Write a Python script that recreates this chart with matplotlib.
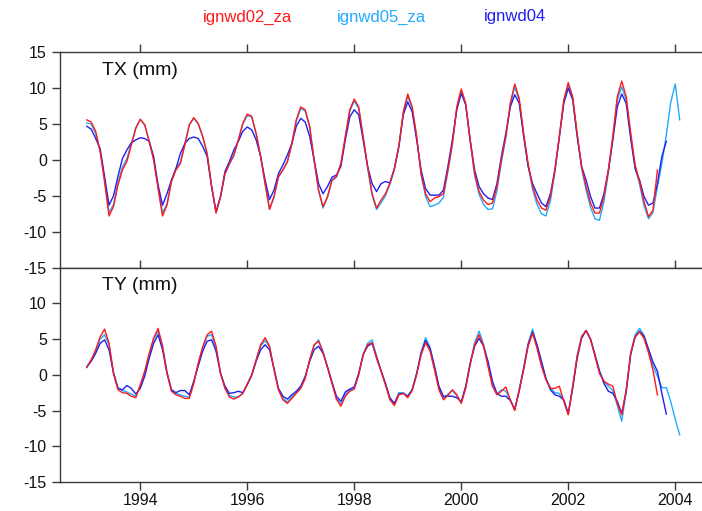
import numpy as np
import matplotlib
matplotlib.use("Agg")
import matplotlib.pyplot as plt

plt.rcParams["font.family"] = ["Liberation Sans", "DejaVu Sans"]
plt.rcParams["axes.unicode_minus"] = False

# Monthly series starting January 1993
start_year = 1993.0

series_names = ["ignwd02_za", "ignwd05_za", "ignwd04"]
series_colors = ["#ff1a1a", "#22aaff", "#2020ee"]

# TX (mm)
tx_02 = [
    5.6, 5.3, 4.0, 1.2, -3.0, -7.8, -6.5, -3.5, -1.4, -0.2, 2.1, 4.4,
    5.7, 4.9, 2.6, 0.0, -4.0, -7.8, -6.3, -3.0, -1.4, -0.5, 2.1, 4.9,
    5.9, 5.1, 3.3, 0.9, -3.7, -7.4, -5.1, -1.9, -0.5, 0.7, 2.8, 5.1,
    6.4, 6.1, 3.7, 0.5, -3.3, -6.9, -5.1, -2.3, -1.4, -0.2, 2.3, 5.6,
    7.4, 7.0, 4.7, 0.0, -4.2, -6.5, -5.1, -2.8, -2.3, -0.5, 3.3, 7.0,
    8.5, 7.4, 3.3, -0.9, -4.7, -6.7, -5.6, -4.7, -3.2, -1.2, 1.9, 6.7,
    9.2, 7.4, 3.3, -1.9, -4.7, -5.8, -5.3, -5.1, -4.7, -1.4, 2.3, 7.4,
    9.9, 7.9, 2.8, -1.9, -4.4, -5.6, -6.2, -6.0, -3.7, 0.0, 3.3, 7.9,
    10.6, 8.6, 3.7, -0.5, -3.7, -5.6, -6.7, -7.0, -5.1, -1.4, 3.3, 8.4,
    10.8, 8.8, 3.7, -0.9, -3.7, -6.0, -7.4, -7.4, -5.1, -1.4, 3.3, 8.8,
    11.0, 8.8, 3.8, -0.7, -3.0, -5.8, -7.9, -7.0, -1.4,
]
tx_05 = [
    5.2, 5.0, 3.7, 1.3, -2.9, -7.3, -6.2, -3.2, -1.0, 0.2, 2.3, 4.5,
    5.6, 4.9, 2.7, 0.1, -3.8, -7.4, -6.1, -2.9, -1.2, -0.3, 2.2, 4.9,
    5.8, 5.0, 3.3, 0.9, -3.6, -7.3, -5.2, -2.0, -0.6, 0.6, 2.8, 5.0,
    6.2, 6.0, 3.6, 0.4, -3.3, -6.8, -5.2, -2.4, -1.4, -0.3, 2.2, 5.4,
    7.2, 6.8, 4.6, -0.1, -4.3, -6.7, -5.2, -2.9, -2.4, -0.6, 3.2, 6.8,
    8.2, 7.2, 3.1, -1.1, -4.9, -6.9, -6.0, -5.0, -3.4, -1.3, 1.8, 6.5,
    8.9, 7.2, 3.1, -2.1, -5.1, -6.5, -6.3, -6.0, -5.2, -1.6, 2.1, 7.2,
    9.6, 7.7, 2.6, -2.1, -4.8, -6.2, -6.9, -6.8, -4.3, -0.3, 3.1, 7.7,
    10.2, 8.3, 3.5, -0.8, -4.1, -6.2, -7.5, -7.8, -5.7, -1.7, 3.1, 8.1,
    10.4, 8.5, 3.4, -1.2, -4.2, -6.6, -8.2, -8.4, -5.8, -1.8, 3.0, 8.4,
    10.2, 8.4, 3.5, -1.0, -3.4, -6.4, -8.2, -7.3, -3.7, -0.5, 3.5, 8.1,
    10.6, 5.6,
]
tx_04 = [
    4.7, 4.3, 3.0, 1.6, -2.3, -6.3, -5.0, -2.3, 0.2, 1.4, 2.4, 2.8,
    3.1, 3.0, 2.6, 0.5, -3.5, -6.3, -4.7, -2.8, -1.2, 0.9, 2.3, 3.0,
    3.2, 3.0, 1.9, 0.5, -3.7, -7.2, -5.1, -1.6, -0.2, 1.4, 2.6, 4.0,
    4.6, 4.2, 2.8, 0.5, -2.8, -5.5, -4.2, -1.9, -0.7, 0.7, 2.3, 4.7,
    5.8, 5.3, 3.3, 0.0, -3.3, -4.7, -3.7, -2.4, -2.1, -0.9, 2.8, 6.0,
    7.0, 6.3, 2.8, -0.9, -3.3, -4.4, -3.3, -3.0, -3.2, -1.2, 1.9, 6.3,
    8.1, 6.7, 2.8, -1.4, -4.0, -4.9, -4.9, -4.9, -4.2, -0.9, 2.8, 7.0,
    9.3, 7.7, 2.8, -1.4, -3.7, -4.7, -5.3, -5.5, -3.3, 0.5, 3.7, 7.4,
    9.1, 7.9, 3.3, -0.9, -3.3, -4.7, -6.0, -6.5, -4.7, -1.4, 3.3, 7.9,
    10.0, 8.4, 3.3, -0.9, -2.8, -5.1, -6.7, -6.7, -4.7, -1.4, 2.8, 7.4,
    9.2, 7.9, 3.0, -1.2, -2.8, -5.1, -6.3, -6.0, -3.3, 0.5, 2.6,
]

# TY (mm)
ty_02 = [
    1.1, 2.1, 3.5, 5.3, 6.4, 4.4, 0.2, -2.1, -2.5, -2.6, -3.0, -3.2,
    -1.4, 0.5, 3.0, 5.1, 6.5, 4.0, 0.2, -2.3, -2.8, -3.0, -3.3, -3.3,
    -1.2, 1.6, 3.9, 5.6, 6.1, 4.0, 0.2, -1.9, -3.1, -3.4, -3.1, -2.6,
    -1.3, 0.0, 2.1, 4.2, 5.2, 4.0, 0.7, -2.1, -3.5, -4.0, -3.3, -2.6,
    -1.9, -0.5, 2.1, 4.2, 4.7, 3.2, 1.0, -1.2, -3.4, -4.4, -3.0, -2.3,
    -2.0, 0.0, 2.8, 4.2, 4.5, 2.3, 0.5, -1.4, -3.5, -4.3, -2.8, -2.6,
    -3.2, -2.2, 0.0, 2.8, 4.5, 3.3, 0.7, -2.1, -3.5, -2.9, -2.1, -2.8,
    -4.0, -1.9, 1.4, 4.2, 5.6, 4.0, 1.2, -1.6, -2.8, -2.3, -1.7, -3.5,
    -5.0, -2.1, 0.7, 4.0, 5.8, 3.7, 1.2, -0.7, -1.9, -1.9, -1.6, -3.7,
    -5.6, -1.6, 2.6, 5.3, 6.2, 4.9, 2.6, 0.2, -0.9, -1.3, -1.6, -4.0,
    -5.6, -2.1, 3.0, 5.3, 6.0, 5.1, 3.1, 0.7, -2.8,
]
ty_05 = [
    1.0, 2.0, 3.3, 5.0, 5.6, 4.2, 0.4, -1.8, -2.2, -2.4, -2.7, -3.0,
    -1.6, 0.3, 2.8, 5.0, 6.1, 4.0, 0.4, -2.1, -2.6, -2.8, -3.0, -3.1,
    -1.1, 1.5, 3.8, 5.4, 5.6, 3.8, 0.3, -1.8, -2.9, -3.1, -3.1, -2.6,
    -1.3, 0.0, 2.1, 4.0, 4.8, 3.9, 0.8, -2.0, -3.3, -3.8, -3.1, -2.5,
    -1.8, -0.4, 2.1, 4.1, 4.9, 3.2, 1.1, -1.1, -3.3, -4.1, -2.8, -2.1,
    -1.9, 0.1, 2.9, 4.4, 4.9, 2.6, 0.6, -1.3, -3.4, -4.1, -2.5, -2.5,
    -3.0, -2.0, 0.2, 3.2, 5.2, 3.8, 1.0, -1.9, -3.3, -2.7, -2.2, -2.9,
    -3.9, -1.7, 1.6, 4.5, 6.1, 4.3, 1.5, -1.5, -2.7, -2.1, -2.3, -3.5,
    -4.9, -2.0, 1.0, 4.4, 6.4, 4.0, 1.5, -0.6, -1.8, -2.5, -2.6, -3.6,
    -5.5, -1.6, 2.7, 5.4, 6.2, 5.0, 2.8, 0.6, -0.9, -1.6, -2.2, -4.3,
    -6.5, -2.4, 3.1, 5.6, 6.5, 5.5, 3.4, 1.3, -0.2, -1.8, -1.8, -3.8,
    -6.2, -8.4,
]
ty_04 = [
    1.1, 1.9, 3.0, 4.4, 4.9, 3.5, 0.2, -1.9, -2.1, -1.5, -1.9, -2.7,
    -1.9, -0.2, 2.3, 4.4, 5.6, 3.5, 0.2, -2.1, -2.5, -2.2, -2.2, -2.8,
    -0.9, 1.2, 3.3, 4.7, 4.9, 3.3, 0.2, -1.6, -2.6, -2.5, -2.3, -2.5,
    -1.4, -0.1, 1.9, 3.5, 4.2, 3.5, 0.9, -1.9, -3.0, -3.4, -2.8, -2.3,
    -1.6, -0.2, 1.9, 3.5, 4.0, 3.0, 1.1, -1.0, -3.0, -3.7, -2.4, -2.0,
    -1.7, 0.2, 2.8, 4.0, 4.4, 2.5, 0.6, -1.2, -3.2, -4.0, -2.7, -2.6,
    -3.0, -2.1, 0.2, 3.0, 4.8, 3.7, 1.2, -1.6, -3.0, -3.0, -3.0, -3.2,
    -3.8, -1.6, 1.6, 4.0, 5.1, 4.0, 1.9, -0.9, -2.6, -3.0, -3.0, -3.6,
    -4.8, -2.3, 0.9, 4.2, 6.0, 4.2, 1.9, -0.5, -2.1, -2.8, -3.0, -3.5,
    -5.4, -1.9, 2.3, 5.1, 6.2, 5.0, 2.8, 0.5, -1.2, -2.3, -2.6, -3.7,
    -5.4, -2.3, 2.8, 5.3, 6.1, 5.4, 3.6, 1.8, 0.5, -2.6, -5.5,
]

panels = [
    ("TX (mm)", [tx_02, tx_05, tx_04]),
    ("TY (mm)", [ty_02, ty_05, ty_04]),
]

x_ticks = [1994, 1996, 1998, 2000, 2002, 2004]
y_ticks_top = [-15, -10, -5, 0, 5, 10, 15]
y_ticks_bottom = [-15, -10, -5, 0, 5, 10]

W, H = 702, 511
fig = plt.figure(figsize=(W / 100, H / 100), dpi=100)

left = 60 / W
width = 1.0 - left
ax_top = fig.add_axes([left, 1 - 267.6 / H, width, 215.2 / H])
ax_bot = fig.add_axes([left, 1 - 482.0 / H, width, 214.4 / H])

spine_color = "#3a3a3a"
draw_order = [1, 2, 0]  # light blue underneath, red on top

for ax, (label, data), yt in zip([ax_top, ax_bot], panels, [y_ticks_top, y_ticks_bottom]):
    for i in draw_order:
        vals = np.asarray(data[i])
        t = start_year + np.arange(len(vals)) / 12.0
        ax.plot(t, vals, color=series_colors[i], lw=1.0, zorder=2 + (i == 0))
    ax.set_xlim(1992.5, 2004.5)
    ax.set_ylim(-15, 15)
    ax.set_xticks(x_ticks)
    ax.set_yticks(yt)
    ax.spines["right"].set_visible(False)
    for s in ["left", "top", "bottom"]:
        ax.spines[s].set_color(spine_color)
        ax.spines[s].set_linewidth(1.0)
    ax.tick_params(axis="both", direction="out", color=spine_color, width=1.0,
                   labelsize=11.5, labelcolor="#111111")
    ax.tick_params(axis="x", top=True, bottom=True, length=5.5, pad=2.5)
    ax.tick_params(axis="y", length=5.5, pad=4)
    ax.text(0.065, 0.915, label, transform=ax.transAxes, fontsize=14,
            ha="left", va="center", color="#111111")

ax_top.tick_params(axis="x", labelbottom=False)

# Colored series names across the top
legend_x = [248 / W, 381 / W, 515 / W]
for name, color, x in zip(series_names, series_colors, legend_x):
    fig.text(x, 1 - 17 / H, name, color=color, fontsize=12, ha="center", va="center")

fig.savefig("out.png", dpi=100)
